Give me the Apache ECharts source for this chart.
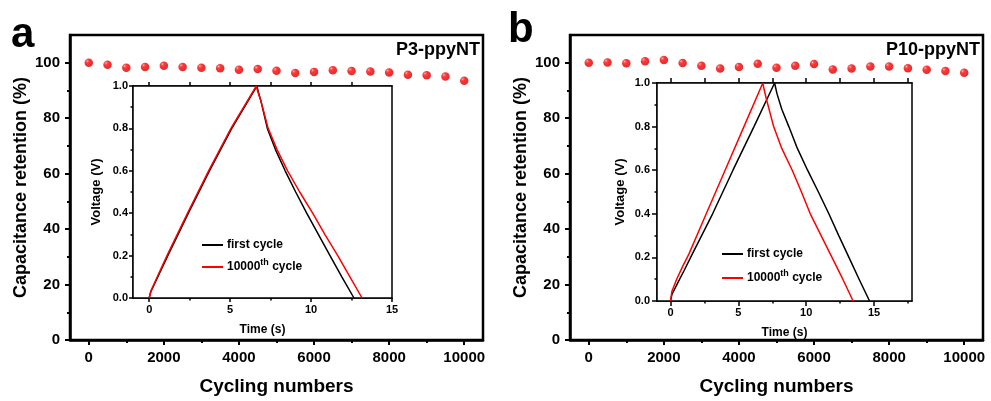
<!DOCTYPE html>
<html>
<head>
<meta charset="utf-8">
<script src="https://cdn.jsdelivr.net/npm/echarts@6/dist/echarts.min.js"></script>
<style>
html,body{margin:0;padding:0;background:#fff;}
#chart{width:991px;height:401px;}
</style>
</head>
<body>
<div id="chart"></div>
<script>
// ---------- data ----------
const cycles = [0,500,1000,1500,2000,2500,3000,3500,4000,4500,5000,5500,6000,6500,7000,7500,8000,8500,9000,9500,10000];
const retentionA = [100,99.3,98.2,98.5,98.9,98.5,98.2,98.0,97.5,97.7,97.1,96.3,96.7,97.3,97.0,96.8,96.5,95.7,95.5,95.0,93.5];
const retentionB = [100,100.1,99.8,100.5,101,99.9,98.9,97.9,98.5,99.6,98.2,98.9,99.5,97.6,97.9,98.6,98.6,98.0,97.5,97.0,96.4];

// inset a (P3-ppyNT)
const timeA1 = [0,0.1,0.5,1.15,2.42,3.72,5.1,6.65,6.75,6.9,7.3,7.8,8.4,9.05,9.73,10.45,11.17,11.9,12.65];
const voltA1 = [0,0.03,0.095,0.2,0.4,0.6,0.8,1.0,0.97,0.93,0.8,0.7,0.6,0.5,0.4,0.3,0.2,0.1,0];
const timeA2 = [0,0.1,0.5,1.1,2.37,3.67,5.05,6.62,6.72,6.9,7.35,7.9,8.55,9.3,10.1,10.85,11.65,12.4,13.15];
const voltA2 = [0,0.032,0.1,0.2,0.4,0.6,0.8,1.0,0.97,0.93,0.8,0.7,0.6,0.5,0.4,0.3,0.2,0.1,0];

// inset b (P10-ppyNT)
const timeB1 = [0,0.1,0.5,1.0,1.6,3.1,4.6,6.15,7.67,7.85,8.2,8.72,9.35,10.1,10.9,11.67,12.4,13.15,13.9,14.67];
const voltB1 = [0,0.03,0.08,0.14,0.215,0.4,0.6,0.8,1.0,0.95,0.88,0.8,0.7,0.6,0.5,0.4,0.3,0.2,0.1,0];
const timeB2 = [0,0.1,0.45,0.9,1.35,2.63,4.02,5.41,6.8,6.9,7.05,7.6,8.2,8.97,9.65,10.3,11.1,11.9,12.7,13.46];
const voltB2 = [0,0.045,0.1,0.16,0.215,0.4,0.6,0.8,1.0,0.97,0.93,0.8,0.7,0.6,0.5,0.4,0.3,0.2,0.1,0];

// ticks
const mainXTicks = [0,2000,4000,6000,8000,10000];
const mainXMinor = [1000,3000,5000,7000,9000];
const mainYTicks = [0,20,40,60,80,100];
const mainYMinor = [10,30,50,70,90];
const insetXTicks = [0,5,10,15];
const insetXMinorA = [2.5,7.5,12.5];
const insetXMinorB = [2.5,7.5,12.5,17.5];
const insetXTopA = [0,2.5,5,7.5,10,12.5];
const insetXTopB = [0,2.5,5,7.5,10,12.5,15,17.5];

const seriesNames = ['first cycle','10000th cycle'];
const titles = ['P3-ppyNT','P10-ppyNT'];
const panelLetters = ['a','b'];

// ---------- build ----------
const FONT = 'Arial, "Liberation Sans", sans-serif';
const chart = echarts.init(document.getElementById('chart'));

const grids = [
  {left:70, top:35, width:413, height:307, show:true, borderColor:'#000', borderWidth:2.5, backgroundColor:'transparent', z:0},
  {left:133, top:86, width:259, height:212, show:true, borderColor:'#000', borderWidth:1.5, backgroundColor:'#fff', z:1},
  {left:570, top:35, width:413, height:307, show:true, borderColor:'#000', borderWidth:2.5, backgroundColor:'transparent', z:0},
  {left:657, top:83, width:255, height:218, show:true, borderColor:'#000', borderWidth:1.5, backgroundColor:'#fff', z:1}
];

const xAxis = [], yAxis = [];
function addX(o){ xAxis.push(o); return xAxis.length-1; }
function addY(o){ yAxis.push(o); return yAxis.length-1; }
const plain = function(v){ return String(v); };

function mainAxes(g){
  const xi = addX({type:'value', gridIndex:g, min:-500, max:10500, position:'bottom',
    axisLine:{show:true, onZero:false, lineStyle:{color:'#000', width:2.5}},
    axisTick:{show:true, inside:false, length:5, lineStyle:{width:2, color:'#000'}, customValues:mainXTicks},
    axisLabel:{show:true, customValues:mainXTicks, formatter:plain, margin:10, color:'#000', fontFamily:FONT, fontWeight:'bold', fontSize:15},
    splitLine:{show:false},
    name:'Cycling numbers', nameLocation:'middle', nameGap:37,
    nameTextStyle:{color:'#000', fontFamily:FONT, fontWeight:'bold', fontSize:19}});
  addX({type:'value', gridIndex:g, min:-500, max:10500, position:'bottom',
    axisLine:{show:false, onZero:false}, axisTick:{show:true, length:3, lineStyle:{width:2,color:'#000'}, customValues:mainXMinor},
    axisLabel:{show:false}, splitLine:{show:false}});
  const yi = addY({type:'value', gridIndex:g, min:0, max:110, position:'left',
    axisLine:{show:true, onZero:false, lineStyle:{color:'#000', width:2.5}},
    axisTick:{show:true, inside:false, length:5, lineStyle:{width:2,color:'#000'}, customValues:mainYTicks},
    axisLabel:{show:true, customValues:mainYTicks, formatter:plain, margin:10, color:'#000', fontFamily:FONT, fontWeight:'bold', fontSize:15},
    splitLine:{show:false},
    name:'Capacitance retention (%)', nameLocation:'middle', nameGap:40,
    nameTextStyle:{color:'#000', fontFamily:FONT, fontWeight:'bold', fontSize:18}});
  addY({type:'value', gridIndex:g, min:0, max:110, position:'left',
    axisLine:{show:false, onZero:false}, axisTick:{show:true, length:3, lineStyle:{width:2,color:'#000'}, customValues:mainYMinor},
    axisLabel:{show:false}, splitLine:{show:false}});
  return [xi, yi];
}

function insetAxes(g, xmax, minor, top, ylabMargin, tickLen){
  const xi = addX({type:'value', gridIndex:g, min:-1, max:xmax, position:'bottom',
    axisLine:{show:true, onZero:false, lineStyle:{color:'#000', width:1.5}},
    axisTick:{show:true, length:tickLen, lineStyle:{width:1.5,color:'#000'}, customValues:insetXTicks},
    axisLabel:{show:true, customValues:insetXTicks, formatter:plain, margin:6, color:'#000', fontFamily:FONT, fontWeight:'bold', fontSize:11},
    splitLine:{show:false},
    name:'Time (s)', nameLocation:'middle', nameGap:26,
    nameTextStyle:{color:'#000', fontFamily:FONT, fontWeight:'bold', fontSize:12}});
  addX({type:'value', gridIndex:g, min:-1, max:xmax, position:'bottom',
    axisLine:{show:false, onZero:false}, axisTick:{show:true, length:2.5, lineStyle:{width:1.5,color:'#000'}, customValues:minor},
    axisLabel:{show:false}, splitLine:{show:false}});
  addX({type:'value', gridIndex:g, min:-1, max:xmax, position:'top',
    axisLine:{show:true, onZero:false, lineStyle:{color:'#000', width:1.5}},
    axisTick:{show:true, length:tickLen, lineStyle:{width:1.5,color:'#000'}, customValues:top},
    axisLabel:{show:false}, splitLine:{show:false}});
  const yi = addY({type:'value', gridIndex:g, min:0, max:1, interval:0.2, position:'left',
    axisLine:{show:true, onZero:false, lineStyle:{color:'#000', width:1.5}},
    axisTick:{show:true, length:tickLen, lineStyle:{width:1.5,color:'#000'}},
    minorTick:{show:true, splitNumber:2, length:2.5, lineStyle:{width:1.5,color:'#000'}},
    axisLabel:{show:true, margin:ylabMargin, color:'#000', fontFamily:FONT, fontWeight:'bold', fontSize:11,
      formatter:function(v){return v.toFixed(1);}},
    splitLine:{show:false},
    name:'Voltage (V)', nameLocation:'middle', nameGap:30,
    nameTextStyle:{color:'#000', fontFamily:FONT, fontWeight:'bold', fontSize:13}});
  return [xi, yi];
}

const [mxA, myA] = mainAxes(0);
const [ixA, iyA] = insetAxes(1, 15, insetXMinorA, insetXTopA, 5, 4);
const [mxB, myB] = mainAxes(2);
const [ixB, iyB] = insetAxes(3, 17.8, insetXMinorB, insetXTopB, 7, 5);

const sphere = {type:'radial', x:0.32, y:0.3, r:0.75,
  colorStops:[{offset:0,color:'#ffd8d8'},{offset:0.14,color:'#ff4040'},{offset:0.38,color:'#ff0000'},{offset:1,color:'#cc0000'}]};

function zip(a,b){ return a.map((v,i)=>[v,b[i]]); }

const series = [
  {type:'scatter', xAxisIndex:mxA, yAxisIndex:myA, data:zip(cycles, retentionA), symbolSize:8.5, itemStyle:{color:sphere}, z:3, silent:true},
  {type:'scatter', xAxisIndex:mxB, yAxisIndex:myB, data:zip(cycles, retentionB), symbolSize:8.5, itemStyle:{color:sphere}, z:3, silent:true},
  {type:'line', name:seriesNames[0], xAxisIndex:ixA, yAxisIndex:iyA, data:zip(timeA1, voltA1), showSymbol:false, lineStyle:{color:'#000', width:1.5}, itemStyle:{color:'#000'}, z:3, silent:true},
  {type:'line', name:seriesNames[1], xAxisIndex:ixA, yAxisIndex:iyA, data:zip(timeA2, voltA2), showSymbol:false, lineStyle:{color:'#ff0000', width:1.5}, itemStyle:{color:'#ff0000'}, z:4, silent:true},
  {type:'line', name:seriesNames[0], xAxisIndex:ixB, yAxisIndex:iyB, data:zip(timeB1, voltB1), showSymbol:false, lineStyle:{color:'#000', width:1.5}, itemStyle:{color:'#000'}, z:3, silent:true},
  {type:'line', name:seriesNames[1], xAxisIndex:ixB, yAxisIndex:iyB, data:zip(timeB2, voltB2), showSymbol:false, lineStyle:{color:'#ff0000', width:1.5}, itemStyle:{color:'#ff0000'}, z:4, silent:true}
];

function legendAt(left, top, gap){
  return {left:left, top:top, orient:'vertical', icon:'rect', itemWidth:21, itemHeight:2, itemGap:gap,
    selectedMode:false, data:seriesNames,
    formatter:function(n){ return n===seriesNames[0] ? '{n|first cycle}' : '{n|10000}{s|th}{n| cycle}'; },
    textStyle:{color:'#000', fontFamily:FONT, fontWeight:'bold', fontSize:12, padding:[0,0,0,-1],
      rich:{n:{fontFamily:FONT, fontWeight:'bold', fontSize:12, color:'#000', lineHeight:14},
            s:{fontFamily:FONT, fontWeight:'bold', fontSize:9, color:'#000', padding:[0,0,9,0]}}}};
}

const graphics = [
  {type:'text', left:11, top:14, style:{text:panelLetters[0], font:'bold 42px ' + FONT, fill:'#000'}},
  {type:'text', left:508, top:9, style:{text:panelLetters[1], font:'bold 42px ' + FONT, fill:'#000'}},
  {type:'text', right:991-480, top:41, style:{text:titles[0], font:'bold 18px ' + FONT, fill:'#000'}},
  {type:'text', right:991-980, top:41, style:{text:titles[1], font:'bold 18px ' + FONT, fill:'#000'}}
];

chart.setOption({
  animation:false,
  backgroundColor:'#fff',
  grid:grids,
  xAxis:xAxis,
  yAxis:yAxis,
  legend:[legendAt(197, 234, 7), legendAt(717, 243, 9)],
  graphic:graphics,
  series:series
});
</script>
</body>
</html>
